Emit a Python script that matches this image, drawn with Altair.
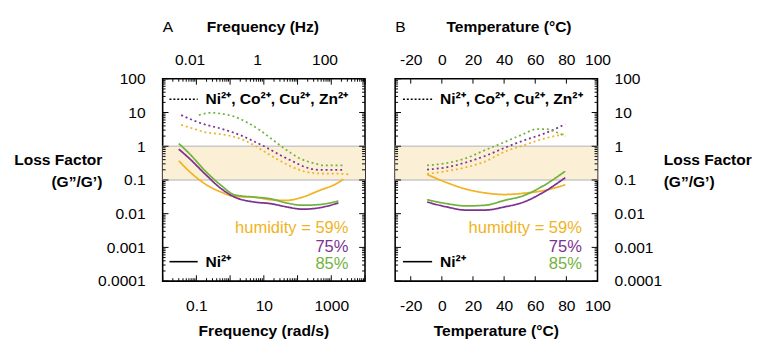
import math
import pandas as pd
import altair as alt

FONT = "Liberation Sans"
W = 208
H = 208

HUMIDITY = ["59%", "75%", "85%"]
COLORS = ["#F0B323", "#7D3191", "#73B240"]

# ---------- Panel A : loss factor vs angular frequency (rad/s) ----------
A_SOLID_X = [0.030, 0.061, 0.186, 0.56, 1.36, 5.1, 15.6, 47, 142, 431, 1626]
A_SOLID_59_X = [0.030, 0.061, 0.186, 0.56, 1.36, 5.1, 15.6, 47, 142, 431, 1626, 2266]
A_SOLID_59 = [0.37, 0.182, 0.075, 0.0431, 0.0324, 0.031, 0.026, 0.0248, 0.031, 0.0482, 0.0838, 0.105]
A_SOLID_75 = [0.82, 0.44, 0.146, 0.0538, 0.031, 0.0222, 0.0199, 0.0159, 0.0136, 0.0149, 0.0208]
A_SOLID_85 = [1.2, 0.615, 0.182, 0.0672, 0.0361, 0.031, 0.0277, 0.0208, 0.0178, 0.0186, 0.0237]

A_DOT_59_X = [0.0353, 0.0767, 0.186, 0.45, 1.09, 2.65, 5.14, 12.5, 30.2, 73.3, 177, 431, 2028, 3530]
A_DOT_59 = [4.3, 3.38, 2.59, 2.32, 1.99, 1.49, 1.07, 0.615, 0.37, 0.237, 0.174, 0.156, 0.152, 0.146]
A_DOT_75_X = [0.0353, 0.0767, 0.166, 0.403, 0.977, 2.37, 5.14, 12.5, 30.2, 73.3, 177, 431, 2266]
A_DOT_75 = [8.38, 6.0, 4.5, 3.6, 2.77, 1.99, 1.39, 0.895, 0.55, 0.353, 0.237, 0.199, 0.199]
A_DOT_85_X = [0.119, 0.259, 0.562, 1.36, 3.30, 8.0, 19.4, 47, 114, 277, 670, 2266]
A_DOT_85 = [8.4, 9.8, 9.2, 7.5, 5.0, 2.9, 1.49, 0.77, 0.44, 0.32, 0.27, 0.27]

# ---------- Panel B : loss factor vs temperature (°C) ----------
B_T = [-9.5, 3, 15.4, 27.8, 40.3, 52.7, 65.2, 79.3]
B_SOLID_59 = [0.146, 0.0838, 0.0538, 0.0413, 0.037, 0.0404, 0.0482, 0.0718]
B_SOLID_75 = [0.0222, 0.0159, 0.0128, 0.0128, 0.0159, 0.0222, 0.0431, 0.117]
B_SOLID_85 = [0.0259, 0.0199, 0.0170, 0.0178, 0.0248, 0.0346, 0.0672, 0.182]
B_DOT_59 = [0.152, 0.182, 0.237, 0.353, 0.687, 1.07, 1.66, 2.32]
B_DOT_75 = [0.203, 0.237, 0.33, 0.515, 0.895, 1.49, 2.32, 4.5]
B_DOT_85_T = [-9.5, 3, 15.4, 27.8, 40.3, 52.7, 61, 67.2, 73.5, 79.3]
B_DOT_85 = [0.271, 0.316, 0.44, 0.767, 1.33, 2.32, 3.23, 3.23, 2.59, 1.99]

# ---------- axes / ticks ----------
Y_DECADES = [0.0001, 0.001, 0.01, 0.1, 1, 10, 100]
BAND = [0.1, 1]
A_X_DECADES = [0.01, 0.1, 1, 10, 100, 1000, 10000]
A_X_LABELS = [0.1, 10, 1000]
A_HZ_LABELS = [0.01, 1, 100]
B_X_TICKS = [-20, 0, 20, 40, 60, 80, 100]

LEGEND_DOTTED = "Ni²⁺, Co²⁺, Cu²⁺, Zn²⁺"
LEGEND_SOLID = "Ni²⁺"
Y_TITLE = ["Loss Factor", "(G”/G’)"]


def minors(decades):
    return [m * d for d in decades[:-1] for m in range(2, 10)]


def line_df(series):
    rows = []
    for style, hum, xs, ys in series:
        for i, (x, y) in enumerate(zip(xs, ys)):
            rows.append({"x": x, "y": y, "hum": hum, "style": style, "i": i})
    return pd.DataFrame(rows)


yscale = alt.Scale(type="log", domain=[Y_DECADES[0], Y_DECADES[-1]], nice=False)
xa_scale = alt.Scale(type="log", domain=[A_X_DECADES[0], A_X_DECADES[-1]], nice=False)
xb_scale = alt.Scale(type="linear", domain=[-30, 100], nice=False, zero=False)

one = pd.DataFrame({"k": [0]})


def txt(s, x, y, align="left", size=16, weight="normal", color="black"):
    return alt.Chart(one).mark_text(
        align=align, baseline="middle", fontSize=size, fontWeight=weight,
        font=FONT, color=color
    ).encode(x=alt.value(x), y=alt.value(y), text=alt.value(s))


def legend_line(x1, x2, y, dash):
    kw = dict(color="black", strokeWidth=1.6)
    if dash:
        kw["strokeDash"] = [2, 2]
    return alt.Chart(one).mark_rule(**kw).encode(
        x=alt.value(x1), x2=alt.value(x2), y=alt.value(y))


def xticks(vals, scale, ln):
    d = pd.DataFrame({"v": vals})
    base = alt.Chart(d).mark_rule(color="black", strokeWidth=1)
    return [
        base.encode(x=alt.X("v:Q", scale=scale, axis=None), y=alt.value(H), y2=alt.value(H - ln)),
        base.encode(x=alt.X("v:Q", scale=scale, axis=None), y=alt.value(0), y2=alt.value(ln)),
    ]


def yticks(vals, ln):
    d = pd.DataFrame({"v": vals})
    base = alt.Chart(d).mark_rule(color="black", strokeWidth=1)
    return [
        base.encode(y=alt.Y("v:Q", scale=yscale, axis=None), x=alt.value(0), x2=alt.value(ln)),
        base.encode(y=alt.Y("v:Q", scale=yscale, axis=None), x=alt.value(W), x2=alt.value(W - ln)),
    ]


def label_axis(**kw):
    return alt.Axis(ticks=False, domain=False, grid=False, title=None,
                    labelFontSize=16, labelFont=FONT, labelColor="black",
                    labelFlush=False, labelOverlap=False, **kw)


def x_axis_layer(vals, scale, orient, pad, expr):
    d = pd.DataFrame({"v": vals})
    return alt.Chart(d).mark_tick(opacity=0).encode(
        x=alt.X("v:Q", scale=scale,
                axis=label_axis(orient=orient, values=vals, labelExpr=expr, labelPadding=pad)))


def y_axis_layer(orient, pad):
    d = pd.DataFrame({"v": Y_DECADES})
    return alt.Chart(d).mark_tick(opacity=0).encode(
        y=alt.Y("v:Q", scale=yscale,
                axis=label_axis(orient=orient, values=Y_DECADES,
                                labelExpr="format(datum.value, '~g')", labelPadding=pad)))


def common_layers(df, xscale):
    band = alt.Chart(pd.DataFrame({"lo": [BAND[0]], "hi": [BAND[1]]})).mark_rect(
        color="#FBEFD6").encode(
        x=alt.value(0), x2=alt.value(W),
        y=alt.Y("lo:Q", scale=yscale, axis=None), y2="hi:Q")
    band_lines = alt.Chart(pd.DataFrame({"v": BAND})).mark_rule(
        color="#C9C9C9", strokeWidth=1.5).encode(
        y=alt.Y("v:Q", scale=yscale, axis=None), x=alt.value(0), x2=alt.value(W))
    lines = alt.Chart(df).mark_line(strokeWidth=1.8, interpolate="monotone").encode(
        x=alt.X("x:Q", scale=xscale, axis=None),
        y=alt.Y("y:Q", scale=yscale, axis=None),
        color=alt.Color("hum:N", scale=alt.Scale(domain=HUMIDITY, range=COLORS), legend=None),
        strokeDash=alt.StrokeDash("style:N", scale=alt.Scale(domain=["dotted", "solid"],
                                                             range=[[2, 3], [1, 0]]), legend=None),
        detail="style:N",
        order=alt.Order("i:Q"),
    )
    return [band, band_lines, lines]


def annotations(legend_x1, legend_x2, text_x, hum_right):
    return [
        legend_line(legend_x1, legend_x2, 21, True),
        txt(LEGEND_DOTTED, text_x, 21, weight="bold", size=16),
        legend_line(legend_x1, legend_x2, 188, False),
        txt(LEGEND_SOLID, text_x, 188, weight="bold", size=16),
        txt("humidity = " + HUMIDITY[0], hum_right, 154, align="right", size=17, color=COLORS[0]),
        txt(HUMIDITY[1], hum_right, 173, align="right", size=17, color=COLORS[1]),
        txt(HUMIDITY[2], hum_right, 191, align="right", size=17, color=COLORS[2]),
    ]


# ---------- Panel A ----------
dfA = line_df([
    ("dotted", HUMIDITY[0], A_DOT_59_X, A_DOT_59),
    ("dotted", HUMIDITY[1], A_DOT_75_X, A_DOT_75),
    ("dotted", HUMIDITY[2], A_DOT_85_X, A_DOT_85),
    ("solid", HUMIDITY[0], A_SOLID_59_X, A_SOLID_59),
    ("solid", HUMIDITY[1], A_SOLID_X, A_SOLID_75),
    ("solid", HUMIDITY[2], A_SOLID_X, A_SOLID_85),
])

hz_vals = [h * 2 * math.pi for h in A_HZ_LABELS]

layersA = common_layers(dfA, xa_scale)
layersA += xticks(A_X_DECADES, xa_scale, 6) + xticks(minors(A_X_DECADES), xa_scale, 3)
layersA += yticks(Y_DECADES, 6) + yticks(minors(Y_DECADES), 3)
layersA += [
    x_axis_layer(A_X_LABELS, xa_scale, "bottom", 17, "format(datum.value, '~g')"),
    x_axis_layer(hz_vals, xa_scale, "top", 12, "format(datum.value / (2 * PI), '.2~r')"),
    y_axis_layer("left", 18),
]
layersA += annotations(7, 36, 44, 191)
layersA += [
    txt("A", 0, -53, size=16),
    txt("Frequency (Hz)", 103, -53, align="center", weight="bold"),
    txt("Frequency (rad/s)", 104, 259, align="center", weight="bold"),
    txt(Y_TITLE[0], -62, 84, align="right", weight="bold"),
    txt(Y_TITLE[1], -62, 106, align="right", weight="bold"),
]
panelA = alt.layer(*layersA).resolve_axis(x="independent", y="independent").properties(
    width=W, height=H)

# ---------- Panel B ----------
dfB = line_df([
    ("dotted", HUMIDITY[0], B_T, B_DOT_59),
    ("dotted", HUMIDITY[1], B_T, B_DOT_75),
    ("dotted", HUMIDITY[2], B_DOT_85_T, B_DOT_85),
    ("solid", HUMIDITY[0], B_T, B_SOLID_59),
    ("solid", HUMIDITY[1], B_T, B_SOLID_75),
    ("solid", HUMIDITY[2], B_T, B_SOLID_85),
])

layersB = common_layers(dfB, xb_scale)
layersB += xticks(B_X_TICKS, xb_scale, 5)
layersB += yticks(Y_DECADES, 6) + yticks(minors(Y_DECADES), 3)
layersB += [
    x_axis_layer(B_X_TICKS, xb_scale, "bottom", 17, "toString(datum.value)"),
    x_axis_layer(B_X_TICKS, xb_scale, "top", 12, "toString(datum.value)"),
    y_axis_layer("right", 17),
]
layersB += annotations(8, 38, 46, 192)
layersB += [
    txt("B", 0, -53, size=16),
    txt("Temperature (°C)", 117, -53, align="center", weight="bold"),
    txt("Temperature (°C)", 104, 259, align="center", weight="bold"),
    txt(Y_TITLE[0], W + 68, 84, align="left", weight="bold"),
    txt(Y_TITLE[1], W + 68, 106, align="left", weight="bold"),
]
panelB = alt.layer(*layersB).resolve_axis(x="independent", y="independent").properties(
    width=W, height=H)

chart = alt.hconcat(panelA, panelB, spacing=27).configure_view(
    stroke="black", strokeWidth=1.6
).properties(padding={"left": 5, "top": 6, "right": 5, "bottom": 5})

chart.save("out.html", embed_options={"renderer": "svg", "actions": False})
